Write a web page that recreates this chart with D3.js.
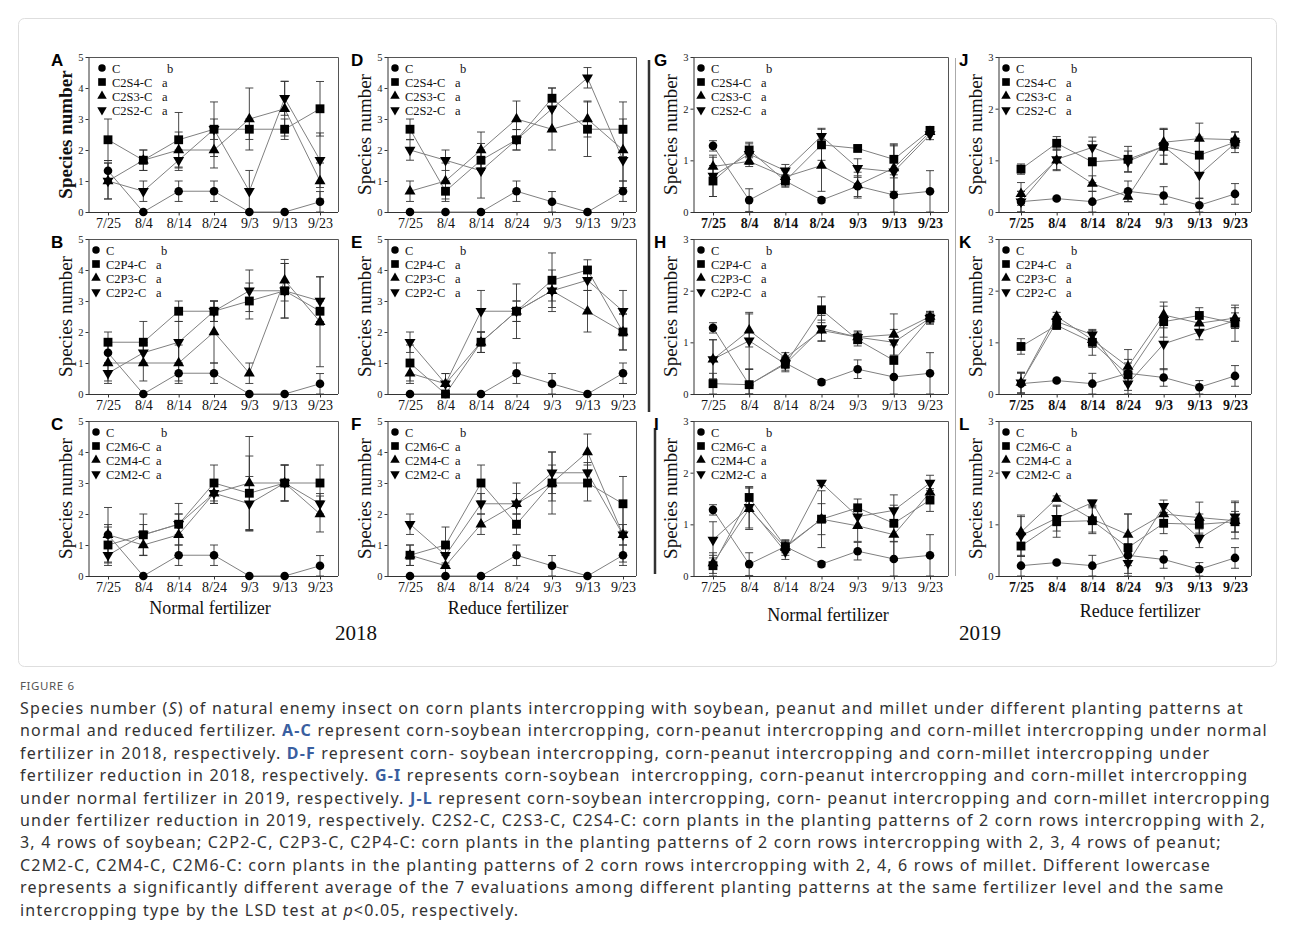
<!DOCTYPE html>
<html>
<head>
<meta charset="utf-8">
<script src="https://cdn.jsdelivr.net/npm/d3@7"></script>
<style>
body { margin: 0; background: #fff; }
svg { display: block; }
.serif { font-family: "Liberation Serif", "Times New Roman", serif; }
.cap { font-family: "Noto Sans", "Open Sans", sans-serif; white-space: pre; }
</style>
</head>
<body>
<svg id="fig" width="1295" height="945"></svg>
<script>
// ---- data ----
const dates = ['7/25', '8/4', '8/14', '8/24', '9/3', '9/13', '9/23']
const soyNames = ['C', 'C2S4-C', 'C2S3-C', 'C2S2-C']
const peanutNames = ['C', 'C2P4-C', 'C2P3-C', 'C2P2-C']
const milletNames = ['C', 'C2M6-C', 'C2M4-C', 'C2M2-C']
const sigLetters = ['b', 'a', 'a', 'a']

// 2018, normal fertilizer
const valsA = [[1.33, 0, 0.67, 0.67, 0, 0, 0.33], [2.33, 1.67, 2.33, 2.67, 2.67, 2.67, 3.33], [1, 1.67, 2, 2, 3, 3.33, 1], [1, 0.67, 1.67, 2.67, 0.67, 3.67, 1.67]]
const errA = [[0.33, 0, 0.33, 0.33, 0, 0, 0.33], [0.67, 0.33, 0.88, 0.88, 0.33, 0.33, 0.88], [0.58, 0.33, 0.58, 0.58, 1, 0.88, 0.58], [0.58, 0.33, 0.33, 0.33, 0.67, 0.55, 0.88]]
const valsB = [[1.33, 0, 0.67, 0.67, 0, 0, 0.33], [1.67, 1.67, 2.67, 2.67, 3, 3.33, 2.67], [1, 1, 1, 2, 0.67, 3.67, 2.33], [0.67, 1.33, 1.67, 2.67, 3.33, 3.33, 3]]
const errB = [[0.33, 0, 0.33, 0.33, 0, 0, 0.33], [0.33, 0.67, 0.33, 0.33, 0.58, 0.88, 0.33], [0.58, 0.58, 0.58, 1, 0.33, 0.67, 1.45], [0.33, 0.33, 0.67, 0.33, 0.67, 0.88, 0.78]]
const valsC = [[1.33, 0, 0.67, 0.67, 0, 0, 0.33], [1, 1.33, 1.67, 3, 2.67, 3, 3], [1.33, 1, 1.33, 2.67, 3, 3, 2], [0.67, 1.33, 1.67, 2.67, 2.33, 3, 2.33]]
const errC = [[0.33, 0, 0.33, 0.33, 0, 0, 0.33], [0.58, 0.67, 0.33, 0.58, 1.2, 0.58, 0.58], [0.88, 0.33, 0.67, 0.33, 1.5, 0.58, 0.58], [0.33, 0.33, 0.67, 0.33, 0.88, 0.58, 0.33]]
// 2018, reduced fertilizer
const valsD = [[0, 0, 0, 0.67, 0.33, 0, 0.67], [2.67, 0.67, 1.67, 2.33, 3.67, 2.67, 2.67], [0.67, 1, 2, 3, 2.67, 3, 2], [2, 1.67, 1.33, 2.33, 3.33, 4.33, 1.67]]
const errD = [[0, 0, 0, 0.33, 0.33, 0, 0.33], [0.33, 0.33, 0.33, 0.33, 0.33, 0.88, 0.88], [0.33, 0.58, 0.58, 0.58, 0.67, 0.58, 1], [0.33, 0.33, 0.88, 0.33, 0.67, 0.33, 0.88]]
const valsE = [[0, 0, 0, 0.67, 0.33, 0, 0.67], [1, 0, 1.67, 2.67, 3.67, 4, 2], [0.67, 0.33, 1.67, 2.67, 3.33, 2.67, 2], [1.67, 0.33, 2.67, 2.67, 3.33, 3.67, 2.67]]
const errE = [[0, 0, 0, 0.33, 0.33, 0, 0.33], [0.58, 0, 0.33, 0.88, 0.88, 0.33, 0.58], [0.33, 0.33, 0.33, 0.33, 0.67, 0.67, 0.58], [0.33, 0.33, 0.67, 0.33, 0.33, 0.33, 0.67]]
const valsF = [[0, 0, 0, 0.67, 0.33, 0, 0.67], [0.67, 1, 3, 1.67, 3, 3, 2.33], [0.67, 0.33, 1.67, 2.33, 3, 4, 1.33], [1.67, 0.67, 2.33, 2.33, 3.33, 3.33, 1.33]]
const errF = [[0, 0, 0, 0.33, 0.33, 0, 0.33], [0.33, 0.58, 0.58, 0.33, 1, 0.58, 0.88], [0.33, 0.33, 0.33, 0.67, 0.58, 0.58, 0.88], [0.33, 0.33, 0.33, 0.33, 0.67, 0.33, 0.33]]
// 2019, normal fertilizer
const valsG = [[1.28, 0.23, 0.6, 0.23, 0.5, 0.33, 0.4], [0.6, 1.2, 0.6, 1.3, 1.23, 1.02, 1.58], [0.88, 0.98, 0.68, 0.9, 0.52, 0.85, 1.55], [0.7, 1.12, 0.8, 1.47, 0.85, 0.78, 1.5]]
const errG = [[0.1, 0.22, 0.1, 0.05, 0.2, 0.33, 0.4], [0.3, 0.15, 0.12, 0.3, 0.05, 0.3, 0.05], [0.18, 0.1, 0.12, 0.5, 0.25, 0.45, 0.05], [0.4, 0.2, 0.12, 0.15, 0.18, 0.5, 0.1]]
const valsH = [[1.28, 0.18, 0.6, 0.23, 0.48, 0.33, 0.4], [0.2, 0.18, 0.58, 1.63, 1.05, 0.65, 1.47], [0.67, 1.23, 0.7, 1.23, 1.1, 1.15, 1.5], [0.67, 1.03, 0.58, 1.27, 1.1, 1, 1.47]]
const errH = [[0.1, 0.3, 0.1, 0.05, 0.18, 0.33, 0.4], [0.2, 0.3, 0.12, 0.25, 0.12, 0.3, 0.12], [0.38, 0.32, 0.1, 0.2, 0.12, 0.4, 0.1], [0.38, 0.55, 0.15, 0.25, 0.1, 0.25, 0.1]]
const valsI = [[1.28, 0.23, 0.57, 0.23, 0.48, 0.33, 0.4], [0.2, 1.52, 0.57, 1.1, 1.32, 1.02, 1.47], [0.25, 1.3, 0.55, 1.1, 0.97, 0.8, 1.62], [0.7, 1.33, 0.47, 1.8, 1.15, 1.27, 1.8]]
const errI = [[0.1, 0.22, 0.1, 0.05, 0.17, 0.33, 0.4], [0.2, 0.2, 0.12, 0.55, 0.17, 0.35, 0.22], [0.2, 0.4, 0.15, 0.3, 0.3, 0.5, 0.2], [0.35, 0.4, 0.15, 0.05, 0.2, 0.3, 0.15]]
// 2019, reduced fertilizer
const valsJ = [[0.2, 0.26, 0.2, 0.4, 0.32, 0.13, 0.35], [0.83, 1.33, 0.97, 1.02, 1.27, 1.1, 1.35], [0.35, 1, 0.55, 0.3, 1.35, 1.42, 1.4], [0.2, 1.02, 1.25, 0.98, 1.27, 0.72, 1.33]]
const errJ = [[0.2, 0.03, 0.2, 0.2, 0.17, 0.13, 0.2], [0.1, 0.13, 0.4, 0.25, 0.35, 0.35, 0.2], [0.22, 0.2, 0.15, 0.1, 0.25, 0.3, 0.15], [0.2, 0.2, 0.2, 0.2, 0.33, 0.45, 0.1]]
const valsK = [[0.2, 0.26, 0.2, 0.4, 0.32, 0.13, 0.35], [0.92, 1.33, 1, 0.37, 1.4, 1.52, 1.37], [0.22, 1.5, 1.05, 0.53, 1.53, 1.37, 1.47], [0.22, 1.4, 1.15, 0.2, 0.97, 1.2, 1.42]]
const errK = [[0.2, 0.03, 0.2, 0.2, 0.17, 0.13, 0.2], [0.15, 0.08, 0.25, 0.3, 0.3, 0.15, 0.35], [0.2, 0.08, 0.15, 0.33, 0.25, 0.15, 0.2], [0.2, 0.1, 0.08, 0.3, 0.5, 0.15, 0.15]]
const valsL = [[0.2, 0.26, 0.2, 0.4, 0.32, 0.13, 0.35], [0.58, 1.05, 1.07, 0.55, 1.02, 1, 1.05], [0.85, 1.5, 1.1, 0.8, 1.2, 1.13, 1.07], [0.78, 1.12, 1.42, 0.25, 1.35, 0.73, 1.15]]
const errL = [[0.2, 0.03, 0.2, 0.2, 0.17, 0.13, 0.2], [0.2, 0.3, 0.25, 0.65, 0.2, 0.2, 0.2], [0.3, 0.05, 0.25, 0.4, 0.2, 0.3, 0.35], [0.4, 0.25, 0.05, 0.2, 0.12, 0.18, 0.3]]

const groupLabels = ['Normal fertilizer', 'Reduce fertilizer', 'Normal fertilizer', 'Reduce fertilizer']
const yearLabels = ['2018', '2019']

const captionLines = [
	[['Species number ('], ['S', 'i'], [') of natural enemy insect on corn plants intercropping with soybean, peanut and millet under different planting patterns at']],
	[['normal and reduced fertilizer. '], ['A-C', 'b'], [' represent corn-soybean intercropping, corn-peanut intercropping and corn-millet intercropping under normal']],
	[['fertilizer in 2018, respectively. '], ['D-F', 'b'], [' represent corn- soybean intercropping, corn-peanut intercropping and corn-millet intercropping under']],
	[['fertilizer reduction in 2018, respectively. '], ['G-I', 'b'], [' represents corn-soybean  intercropping, corn-peanut intercropping and corn-millet intercropping']],
	[['under normal fertilizer in 2019, respectively. '], ['J-L', 'b'], [' represent corn-soybean intercropping, corn- peanut intercropping and corn-millet intercropping']],
	[['under fertilizer reduction in 2019, respectively. C2S2-C, C2S3-C, C2S4-C: corn plants in the planting patterns of 2 corn rows intercropping with 2,']],
	[['3, 4 rows of soybean; C2P2-C, C2P3-C, C2P4-C: corn plants in the planting patterns of 2 corn rows intercropping with 2, 3, 4 rows of peanut;']],
	[['C2M2-C, C2M4-C, C2M6-C: corn plants in the planting patterns of 2 corn rows intercropping with 2, 4, 6 rows of millet. Different lowercase']],
	[['represents a significantly different average of the 7 evaluations among different planting patterns at the same fertilizer level and the same']],
	[['intercropping type by the LSD test at '], ['p', 'i'], ['<0.05, respectively.']],
]

// ---- layout ----
const svg = d3.select('#fig')
const cols = [
	{ axis: 88, x0: 108, x1: 320, right: 338, lab: 51, ymax: 5 },
	{ axis: 387, x0: 410, x1: 623, right: 636, lab: 351, ymax: 5 },
	{ axis: 693, x0: 713, x1: 930, right: 948, lab: 654, ymax: 3 },
	{ axis: 998, x0: 1021, x1: 1235, right: 1251, lab: 959, ymax: 3 },
]
const rows = [{ top: 57, bottom: 212 }, { top: 239, bottom: 394 }, { top: 421, bottom: 576 }]

const panels = [
	{ id: 'A', col: 0, row: 0, names: soyNames, vals: valsA, errs: errA, boldTitle: true, legDx: 14 },
	{ id: 'B', col: 0, row: 1, names: peanutNames, vals: valsB, errs: errB },
	{ id: 'C', col: 0, row: 2, names: milletNames, vals: valsC, errs: errC },
	{ id: 'D', col: 1, row: 0, names: soyNames, vals: valsD, errs: errD },
	{ id: 'E', col: 1, row: 1, names: peanutNames, vals: valsE, errs: errE },
	{ id: 'F', col: 1, row: 2, names: milletNames, vals: valsF, errs: errF },
	{ id: 'G', col: 2, row: 0, names: soyNames, vals: valsG, errs: errG, boldTicks: true },
	{ id: 'H', col: 2, row: 1, names: peanutNames, vals: valsH, errs: errH },
	{ id: 'I', col: 2, row: 2, names: milletNames, vals: valsI, errs: errI },
	{ id: 'J', col: 3, row: 0, names: soyNames, vals: valsJ, errs: errJ, boldTicks: true },
	{ id: 'K', col: 3, row: 1, names: peanutNames, vals: valsK, errs: errK, boldTicks: true },
	{ id: 'L', col: 3, row: 2, names: milletNames, vals: valsL, errs: errL, boldTicks: true },
]

// symbol per series: circle, square, triangle up, triangle down
const symbols = [
	{ type: d3.symbolCircle, size: 58, rot: 0 },
	{ type: d3.symbolSquare, size: 78, rot: 0 },
	{ type: d3.symbolTriangle, size: 52, rot: 0 },
	{ type: d3.symbolTriangle, size: 52, rot: 180 },
]
const symbolPath = (i, scale) => d3.symbol().type(symbols[i].type).size(symbols[i].size * (scale || 1))()

// outer figure frame
svg.append('rect')
	.attr('x', 18.5).attr('y', 18.5).attr('width', 1258).attr('height', 648).attr('rx', 6)
	.attr('fill', 'none').attr('stroke', '#dedede')

// borders of the pasted sub-images
svg.append('line').attr('x1', 649).attr('x2', 649).attr('y1', 60).attr('y2', 412).attr('stroke', '#333').attr('stroke-width', 2.5)
svg.append('line').attr('x1', 655).attr('x2', 655).attr('y1', 428).attr('y2', 574).attr('stroke', '#333').attr('stroke-width', 2.5)
svg.append('line').attr('x1', 955.5).attr('x2', 955.5).attr('y1', 58).attr('y2', 576).attr('stroke', '#aaa')

panels.forEach(p => {
	const c = cols[p.col]
	const r = rows[p.row]
	const g = svg.append('g').attr('class', 'serif')

	const x = d3.scalePoint().domain(dates).range([c.x0, c.x1])
	const y = d3.scaleLinear().domain([0, c.ymax]).range([r.bottom, r.top])

	// top / right frame
	g.append('path')
		.attr('d', `M${c.axis},${r.top + 0.5}H${c.right + 0.5}V${r.bottom}`)
		.attr('fill', 'none').attr('stroke', '#555').attr('stroke-width', 1)

	// y axis
	const yAxis = d3.axisLeft(y).ticks(c.ymax).tickFormat(d3.format('d')).tickSize(3).tickSizeOuter(0).tickPadding(2)
	const yg = g.append('g').attr('transform', `translate(${c.axis + 0.5},0)`).call(yAxis)
	yg.selectAll('text').style('font-size', '10.5px').attr('fill', '#222').style('font-family', '"Liberation Serif", serif')
	yg.selectAll('line, path').attr('stroke', '#333')

	// x axis
	const xAxis = d3.axisBottom(x).tickSize(3).tickSizeOuter(0).tickPadding(3)
	const xg = g.append('g').attr('transform', `translate(0,${r.bottom + 0.5})`).call(xAxis)
	xg.select('.domain').remove()
	xg.append('line').attr('x1', c.axis).attr('x2', c.right).attr('stroke', '#333')
	xg.selectAll('line').attr('stroke', '#333')
	xg.selectAll('text')
		.style('font-size', '14px')
		.style('font-family', '"Liberation Serif", serif')
		.style('font-weight', p.boldTicks ? 'bold' : 'normal')
		.attr('fill', '#111')

	// axis title
	g.append('text')
		.attr('transform', `translate(${c.axis - 22},${(r.top + r.bottom) / 2}) rotate(-90)`)
		.attr('text-anchor', 'middle').attr('dy', '0.34em')
		.style('font-size', '19px')
		.style('font-weight', p.boldTitle ? 'bold' : 'normal')
		.attr('fill', '#111')
		.text('Species number')

	// panel letter
	svg.append('text')
		.attr('x', c.lab).attr('y', r.top + 9)
		.style('font-family', '"Liberation Sans", Arial, sans-serif')
		.style('font-weight', 'bold').style('font-size', '17px')
		.attr('fill', '#000')
		.text(p.id)

	// series: lines, error bars, markers
	p.vals.forEach((vals, si) => {
		const pts = vals.map((v, i) => ({ d: dates[i], v, e: p.errs[si][i] }))
		g.append('path')
			.datum(pts)
			.attr('fill', 'none').attr('stroke', '#808080').attr('stroke-width', 1)
			.attr('d', d3.line().x(d => x(d.d)).y(d => y(d.v)))
	})
	p.vals.forEach((vals, si) => {
		const pts = vals.map((v, i) => ({ d: dates[i], v, e: p.errs[si][i] })).filter(d => d.e > 0)
		const eb = g.append('g').attr('stroke', '#333').attr('stroke-width', 0.9)
		eb.selectAll('path')
			.data(pts)
			.join('path')
			.attr('fill', 'none')
			.attr('d', d => {
				const cx = x(d.d)
				const hi = y(d.v + d.e)
				const lo = y(Math.max(0, d.v - d.e))
				return `M${cx},${hi}V${lo}M${cx - 4},${hi}H${cx + 4}M${cx - 4},${lo}H${cx + 4}`
			})
	})
	p.vals.forEach((vals, si) => {
		g.append('g').selectAll('path')
			.data(vals)
			.join('path')
			.attr('d', symbolPath(si))
			.attr('transform', (v, i) => `translate(${x(dates[i])},${y(v)}) rotate(${symbols[si].rot})`)
			.attr('fill', '#000')
	})

	// legend
	const lx = c.axis + (p.legDx || 8)
	p.names.forEach((name, i) => {
		const ly = r.top + 11 + i * 14
		g.append('path')
			.attr('d', symbolPath(i, 0.75))
			.attr('transform', `translate(${lx},${ly}) rotate(${symbols[i].rot})`)
			.attr('fill', '#000')
		g.append('text').attr('x', lx + 10).attr('y', ly + 4.5)
			.style('font-size', '12.5px').attr('fill', '#111').text(name)
		g.append('text').attr('x', lx + 10 + (sigLetters[i] === 'b' ? 55 : 50)).attr('y', ly + 4.5)
			.style('font-size', '12.5px').attr('fill', '#111').text(sigLetters[i])
	})
})

// group and year labels
const groupPos = [[210, 614], [508, 614], [828, 621], [1140, 617]]
groupLabels.forEach((t, i) => {
	svg.append('text').attr('class', 'serif')
		.attr('x', groupPos[i][0]).attr('y', groupPos[i][1])
		.attr('text-anchor', 'middle').style('font-size', '18px').attr('fill', '#111')
		.text(t)
})
const yearPos = [[356, 640], [980, 640]]
yearLabels.forEach((t, i) => {
	svg.append('text').attr('class', 'serif')
		.attr('x', yearPos[i][0]).attr('y', yearPos[i][1])
		.attr('text-anchor', 'middle').style('font-size', '21px').attr('fill', '#111')
		.text(t)
})

// caption
svg.append('text').attr('class', 'cap')
	.attr('x', 20).attr('y', 690)
	.style('font-size', '11.5px').style('letter-spacing', '0.6px').attr('fill', '#555')
	.text('FIGURE 6')

// one text element per caption line; font kept just under the line pitch
const capFont = 16
const capTexts = captionLines.map((segs, li) => {
	const line = svg.append('text').attr('class', 'cap')
		.attr('x', 20).attr('y', 714 + li * 22.4)
		.attr('fill', '#333').style('font-size', capFont + 'px')
	segs.forEach(s => {
		const t = line.append('tspan').text(s[0])
		if (s[1] === 'i') t.style('font-style', 'italic')
		if (s[1] === 'b') t.style('font-weight', 'bold').attr('fill', '#3a5fa0')
	})
	return line
})
// small letter spacing so the first line runs from 20 to ~1244, as in the figure
const firstLine = capTexts[0].node()
const nChars = firstLine.textContent.length
const spacing = (1224 - firstLine.getComputedTextLength()) / nChars
capTexts.forEach(t => t.style('letter-spacing', spacing.toFixed(3) + 'px'))
</script>
</body>
</html>
